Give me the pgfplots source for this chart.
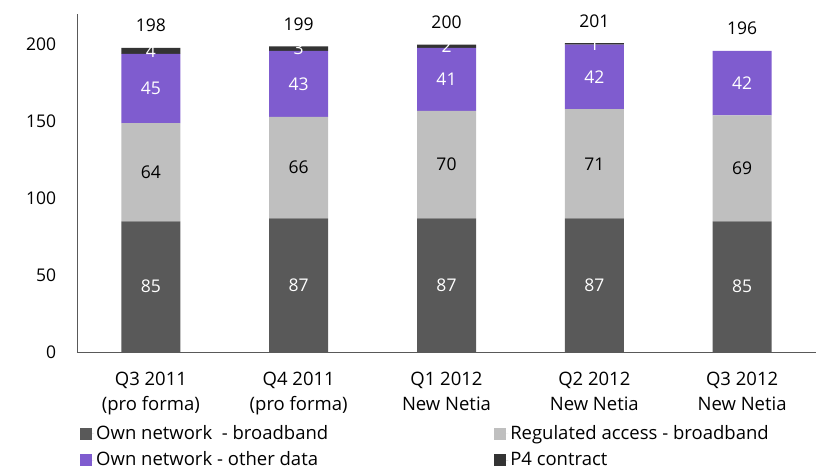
\documentclass[border=0pt]{standalone}
\usepackage{fontspec}
\setmainfont{Open Sans}
\usepackage{pgfplots}
\pgfplotsset{compat=1.18}
\definecolor{cown}{HTML}{595959}
\definecolor{creg}{HTML}{BFBFBF}
\definecolor{cpur}{HTML}{7F5CCF}
\definecolor{cp4}{HTML}{333333}
\definecolor{caxis}{HTML}{595959}
\begin{document}
\fontsize{17}{20}\selectfont
\begin{tikzpicture}
\begin{axis}[
  scale only axis, width=739pt, height=338pt,
  ybar stacked, bar width=59pt,
  xmin=-0.5, xmax=4.5, ymin=0, ymax=220,
  axis lines=left, axis line style={draw=caxis, line width=0.8pt, -},
  ytick={0,50,100,150,200},
  xtick={0,1,2,3,4},
  xticklabels={{Q3 2011\\(pro forma)},{Q4 2011\\(pro forma)},{Q1 2012\\New Netia},{Q2 2012\\New Netia},{Q3 2012\\New Netia}},
  xticklabel style={align=center, yshift=-14pt, font=\fontsize{18.5}{25}\selectfont},
  yticklabel style={xshift=-15pt, font=\fontsize{17.5}{20}\selectfont},
  major tick length=0pt,
  /pgf/number format/assume math mode=true,
  enlargelimits=false,
  clip=false,
  nodes near coords,
  every node near coord/.append style={anchor=center, font=\fontsize{17.5}{20}\selectfont},
  legend columns=2,
  legend cell align=left,
  legend style={draw=none, fill=none, at={(axis description cs:0,0)}, anchor=north west, yshift=-69pt, xshift=0pt,
    font=\fontsize{18.5}{22}\selectfont, row sep=6pt,
    /tikz/every even column/.append style={column sep=164pt}},
  legend image code/.code={\fill[#1] (0pt,-6pt) rectangle (12pt,6pt); \path (0pt,0pt) -- (14pt,0pt);},
]
\addplot[fill=cown, draw=none, every node near coord/.append style={text=white}] coordinates {(0,85) (1,87) (2,87) (3,87) (4,85)};
\addplot[fill=creg, draw=none, every node near coord/.append style={text=black}] coordinates {(0,64) (1,66) (2,70) (3,71) (4,69)};
\addplot[fill=cpur, draw=none, every node near coord/.append style={text=white}] coordinates {(0,45) (1,43) (2,41) (3,42) (4,42)};
\addplot[fill=cp4, draw=none, every node near coord/.append style={text=white}] coordinates {(0,4) (1,3) (2,2) (3,1)};
\legend{Own network\ \ - broadband, Regulated access - broadband, Own network - other data, P4 contract}
\node[anchor=base, yshift=16pt, font=\fontsize{17.5}{20}\selectfont] at (axis cs:0,198) {198};
\node[anchor=base, yshift=16pt, font=\fontsize{17.5}{20}\selectfont] at (axis cs:1,199) {199};
\node[anchor=base, yshift=16pt, font=\fontsize{17.5}{20}\selectfont] at (axis cs:2,200) {200};
\node[anchor=base, yshift=16pt, font=\fontsize{17.5}{20}\selectfont] at (axis cs:3,201) {201};
\node[anchor=base, yshift=16pt, font=\fontsize{17.5}{20}\selectfont] at (axis cs:4,196) {196};
\coordinate (bl) at (rel axis cs:0,0);
\coordinate (tr) at (rel axis cs:1,1);
\end{axis}
\pgfresetboundingbox
\path[use as bounding box] ([shift={(-77pt,-118pt)}]bl) rectangle ([shift={(0pt,14pt)}]tr);
\end{tikzpicture}
\end{document}
